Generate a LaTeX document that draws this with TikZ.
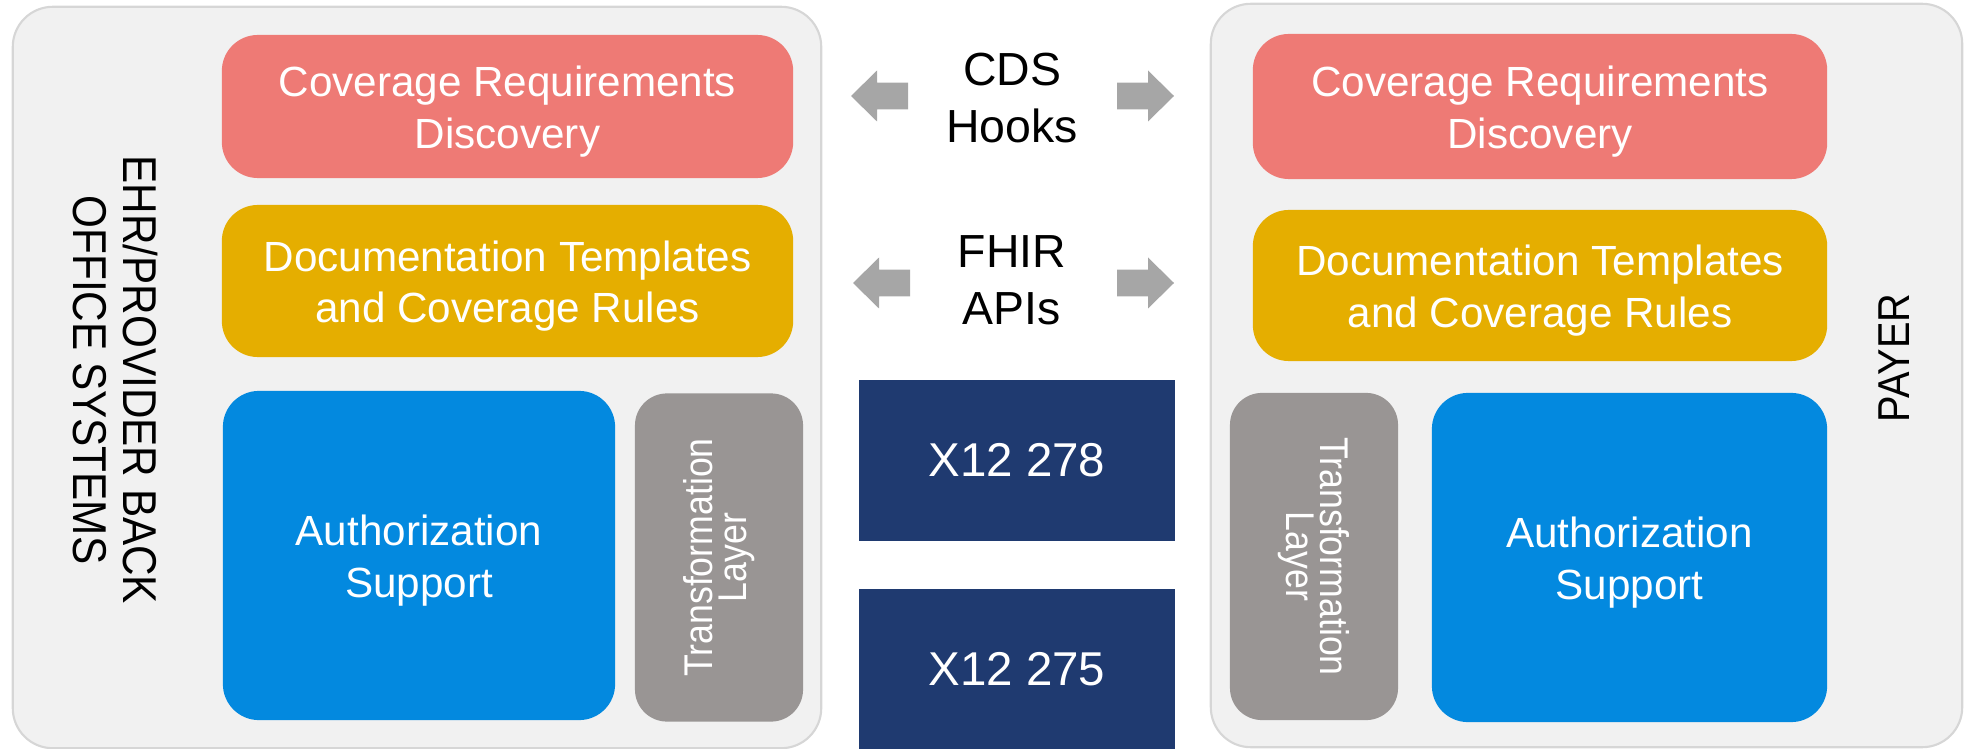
\documentclass[tikz,border=0pt]{standalone}
\usepackage{fontspec}
\setmainfont{Liberation Sans}
\newfontfamily\condsans[FakeStretch=0.89]{Liberation Sans}

\definecolor{panelfill}{HTML}{F1F1F1}
\definecolor{panelline}{HTML}{D6D6D6}
\definecolor{crdred}{HTML}{EE7A75}
\definecolor{dtryellow}{HTML}{E5AE00}
\definecolor{authblue}{HTML}{0389DF}
\definecolor{layergray}{HTML}{999594}
\definecolor{x12navy}{HTML}{1F3A70}
\definecolor{arrowgray}{HTML}{A6A6A6}

% tall ascent strut so that text blocks sit like slide text
\newcommand{\topstrut}{\rule{0pt}{0.97em}}

\tikzset{
  panel/.style={draw=panelline, line width=0.6pt, fill=panelfill,
    rounded corners=0.4cm, inner sep=0pt},
  block/.style={fill=#1, text=white, rounded corners=0.36cm, inner sep=0pt,
    align=center, font=\fontsize{12}{14.7}\selectfont},
  layerbox/.style={fill=layergray, text=white, rounded corners=0.32cm,
    inner sep=0pt, align=center,
    font=\condsans\fontsize{11.4}{9.8}\selectfont,
    minimum width=3.28cm, minimum height=1.68cm},
  x12box/.style={fill=x12navy, text=white, inner sep=0pt,
    font=\fontsize{13.5}{16}\selectfont,
    minimum width=3.16cm, minimum height=1.61cm},
  sidelabel/.style={inner sep=0pt, align=center, text=black},
  midlabel/.style={inner sep=0pt, align=center, text=black,
    font=\fontsize{13.2}{16.2}\selectfont},
  blockarrow/.pic={
    \fill[arrowgray] (0,-13.3) -- (31,-13.3) -- (31,-25.5) -- (57,0)
      -- (31,25.5) -- (31,13.3) -- (0,13.3) -- cycle;
  }
}

\begin{document}
\begin{tikzpicture}[x=0.01cm, y=-0.01cm]
\useasboundingbox (0,0) rectangle (1964,749);

% provider side
\node[panel, minimum width=8.08cm, minimum height=7.41cm] (ehr) at (417,377.5) {};
\node[sidelabel, rotate=-90, font=\condsans\fontsize{13.5}{14.2}\selectfont]
  (ehrlabel) at (115,380) {EHR/PROVIDER BACK\\OFFICE SYSTEMS};
\node[block=crdred, minimum width=5.71cm, minimum height=1.43cm]
  (crdL) at (507.5,106.5) {\topstrut Coverage Requirements\\Discovery};
\node[block=dtryellow, minimum width=5.71cm, minimum height=1.52cm]
  (dtrL) at (507.5,281) {\topstrut Documentation Templates\\and Coverage Rules};
\node[block=authblue, minimum width=3.92cm, minimum height=3.29cm]
  (authL) at (419,555.5) {\topstrut Authorization\\Support};
\node[layerbox, rotate=90] (layerL) at (719,557.5) {Transformation\\Layer};

% payer side
\node[panel, minimum width=7.51cm, minimum height=7.43cm] (payer) at (1586.5,375.5) {};
\node[sidelabel, rotate=90, font=\condsans\fontsize{12.7}{14}\selectfont]
  (payerlabel) at (1894,358) {PAYER};
\node[block=crdred, minimum width=5.74cm, minimum height=1.45cm]
  (crdR) at (1540,106.5) {\topstrut Coverage Requirements\\Discovery};
\node[block=dtryellow, minimum width=5.74cm, minimum height=1.51cm]
  (dtrR) at (1540,285.5) {\topstrut Documentation Templates\\and Coverage Rules};
\node[layerbox, rotate=-90, minimum width=3.27cm] (layerR) at (1314,556.5) {Transformation\\Layer};
\node[block=authblue, minimum width=3.95cm, minimum height=3.29cm]
  (authR) at (1629.5,557.5) {\topstrut Authorization\\Support};

% exchange channels in between
\node[midlabel] (cds) at (1012,98) {CDS\\Hooks};
\node[midlabel] (fhir) at (1012,280) {FHIR\\APIs};
\pic[rotate=180] at (908,96) {blockarrow};
\pic at (1117,96) {blockarrow};
\pic[rotate=180] at (910,283) {blockarrow};
\pic at (1117,283) {blockarrow};

\node[x12box] (x278) at (1017,460.5) {X12 278};
\node[x12box, minimum height=1.60cm] (x275) at (1017,669) {X12 275};
\end{tikzpicture}
\end{document}
